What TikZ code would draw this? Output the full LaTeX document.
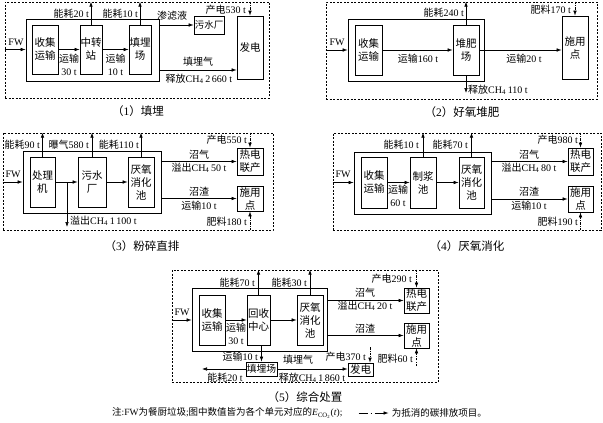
\documentclass[tikz,border=0pt]{standalone}
\usepackage{fontspec}
\setmainfont{Noto Sans CJK SC}
\newfontfamily\enf{Liberation Serif}
\newcommand\en[1]{{\enf #1}}
\newcommand\chq{\en{CH\textsubscript{4}}}
\usetikzlibrary{arrows.meta}
\tikzset{
  box/.style={draw, line width=0.75pt, inner sep=0pt, align=center, font=\fontsize{10.5}{13}\selectfont},
  obox/.style={draw, line width=0.6pt, dash pattern=on 2pt off 1.5pt, inner sep=0pt},
  arr/.style={line width=0.65pt, -{Latex[length=5pt,width=3.6pt]}},
  darr/.style={arr, dash pattern=on 2.5pt off 1.2pt on 0.8pt off 1.2pt},
  legarr/.style={arr, dash pattern=on 9pt off 3pt on 1.2pt off 3pt},
  lbl/.style={inner sep=0pt, align=center, font=\fontsize{10}{12.5}\selectfont},
  captxt/.style={inner sep=0pt, font=\fontsize{11.5}{13}\selectfont},
  notetxt/.style={inner sep=0pt, font=\fontsize{9.5}{11}\selectfont},
}
\newcommand\bx[7][box]{\node[#1,minimum width={(#5-#3)*1pt},minimum height={(#6-#4)*1pt}] (#2) at ({(#3+#5)/2},{(#4+#6)/2}) {#7};}
\begin{document}
\begin{tikzpicture}[x=1pt,y=-1pt]
\useasboundingbox (0,0) rectangle (603,423);
% ---------------- panel 1
\bx[obox]{o1}{5}{2}{269}{98}{}
\bx{in1}{26}{19}{159}{81}{}
\bx{a1}{32}{25}{58}{74}{收集\\运输}
\bx{b1}{80}{25}{102}{74}{中转\\站}
\bx{c1}{129}{25}{151}{74}{填埋\\场}
\bx[box,font=\fontsize{9.5}{12}\selectfont]{w1}{194}{16}{224}{34}{污水厂}
\bx{g1}{237}{16}{263}{79}{发电}
\draw[arr] (o1.west |- a1) -- (in1.west |- a1);
\node[lbl] (fw1) at (16,42) {\en{FW}};
\draw[arr] (a1) -- (b1);
\draw[arr] (b1) -- (c1);
\node[lbl] (t1a) at (69,65) {运输\\\en{30 t}};
\node[lbl] (t1b) at (115.5,65) {运输\\\en{10 t}};
\draw[arr] (b1.north) -- (b1.north |- o1.north);
\node[lbl,anchor=east] (t1c) at (89,14) {能耗\en{20 t}};
\draw[arr] (c1.north) -- (c1.north |- o1.north);
\node[lbl,anchor=east] (t1d) at (138,14) {能耗\en{10 t}};
\draw[arr] (in1.east |- w1) -- (w1.west);
\node[lbl] (t1e) at (172,16) {渗滤液};
\coordinate (p1) at (159,70);
\draw[arr] (p1) -- (p1 -| g1.west);
\node[lbl] (t1f) at (198,62) {填埋气};
\node[lbl] (t1g) at (199,79) {释放\chq\en{\,2\,660 t}};
\draw[darr] (g1.north |- o1.north) -- (g1.north);
\node[lbl,anchor=east] (t1h) at (246,10) {产电\en{530 t}};
\node[captxt] (cap1) at (138,111) {（\en{1}）填埋};
% ---------------- panel 2
\bx[obox]{o2}{326}{2}{597}{99}{}
\bx{in2}{348}{19}{484}{81}{}
\bx{a2}{355}{25}{382}{75}{收集\\运输}
\bx{b2}{453}{25}{479}{75}{堆肥\\场}
\bx{d2}{562}{16}{588}{79}{施用\\点}
\draw[arr] (o2.west |- a2) -- (in2.west |- a2);
\node[lbl] (fw2) at (337,42) {\en{FW}};
\draw[arr] (a2) -- (b2);
\node[lbl] (t2a) at (418,59) {运输\en{160 t}};
\draw[arr] (b2.north) -- (b2.north |- o2.north);
\node[lbl,anchor=east] (t2b) at (464,13) {能耗\en{240 t}};
\coordinate (q2) at (466,93);
\draw[arr] (b2.south) -- (b2.south |- q2);
\node[lbl,anchor=west] (t2c) at (468,90) {释放\chq\en{\,110 t}};
\draw[arr] (b2) -- (b2 -| d2.west);
\node[lbl] (t2d) at (524,59) {运输\en{20 t}};
\draw[darr] (d2.north |- o2.north) -- (d2.north);
\node[lbl,anchor=east] (t2e) at (571,10) {肥料\en{170 t}};
\node[captxt] (cap2) at (462,112) {（\en{2}）好氧堆肥};
% ---------------- panel 3
\bx[obox]{o3}{3}{133}{273}{230}{}
\bx{in3}{23}{151}{161}{213}{}
\bx{a3}{30}{157}{55}{207}{处理\\机}
\bx{b3}{78}{157}{106}{207}{污水\\厂}
\bx{c3}{128}{157}{154}{207}{厌氧\\消化\\池}
\bx{h3}{237}{148}{263}{175}{热电\\联产}
\bx{d3}{237}{186}{263}{211}{施用\\点}
\draw[arr] (o3.west |- a3) -- (in3.west |- a3);
\node[lbl] (fw3) at (13,174) {\en{FW}};
\draw[arr] (a3) -- (b3);
\draw[arr] (b3) -- (c3);
\coordinate (s3) at (67,182);
\coordinate (s3e) at (67,227);
\draw[arr] (s3) -- (s3e);
\node[lbl,anchor=west] (t3a) at (70,221) {溢出\chq\en{\,1\,100 t}};
\draw[arr] (a3.north) -- (a3.north |- o3.north);
\node[lbl,anchor=east] (t3b) at (40,145) {能耗\en{90 t}};
\draw[arr] (b3.north) -- (b3.north |- o3.north);
\node[lbl,anchor=east] (t3c) at (89,145) {曝气\en{580 t}};
\draw[arr] (c3.north) -- (c3.north |- o3.north);
\node[lbl,anchor=east] (t3d) at (139,145) {能耗\en{110 t}};
\draw[arr] (in3.east |- h3) -- (h3.west);
\node[lbl] (t3e) at (199,155) {沼气};
\node[lbl] (t3f) at (199,168) {溢出\chq\en{\,50 t}};
\draw[arr] (in3.east |- d3) -- (d3.west);
\node[lbl] (t3g) at (199,192) {沼渣};
\node[lbl] (t3h) at (199,206) {运输\en{10 t}};
\draw[darr] (h3.north |- o3.north) -- (h3.north);
\node[lbl,anchor=east] (t3i) at (247,140) {产电\en{550 t}};
\draw[darr] (d3.south |- o3.south) -- (d3.south);
\node[lbl,anchor=east] (t3j) at (247,222) {肥料\en{180 t}};
\node[captxt] (cap3) at (142,246) {（\en{3}）粉碎直排};
% ---------------- panel 4
\bx[obox]{o4}{333}{133}{601}{230}{}
\bx{in4}{354}{152}{491}{214}{}
\bx{a4}{361}{157}{387}{208}{收集\\运输}
\bx{b4}{410}{157}{436}{208}{制浆\\池}
\bx{c4}{459}{157}{484}{208}{厌氧\\消化\\池}
\bx{h4}{568}{148}{593}{175}{热电\\联产}
\bx{d4}{568}{186}{593}{212}{施用\\点}
\draw[arr] (o4.west |- a4) -- (in4.west |- a4);
\node[lbl] (fw4) at (343,174) {\en{FW}};
\draw[arr] (a4) -- (b4);
\draw[arr] (b4) -- (c4);
\node[lbl] (t4a) at (398,196) {运输\\\en{60 t}};
\draw[arr] (b4.north) -- (b4.north |- o4.north);
\node[lbl,anchor=east] (t4b) at (419,145) {能耗\en{10 t}};
\draw[arr] (c4.north) -- (c4.north |- o4.north);
\node[lbl,anchor=east] (t4c) at (468,145) {能耗\en{70 t}};
\draw[arr] (in4.east |- h4) -- (h4.west);
\node[lbl] (t4d) at (529,155) {沼气};
\node[lbl] (t4e) at (529,168) {溢出\chq\en{\,80 t}};
\draw[arr] (in4.east |- d4) -- (d4.west);
\node[lbl] (t4f) at (529,192) {沼渣};
\node[lbl] (t4g) at (529,206) {运输\en{10 t}};
\draw[darr] (h4.north |- o4.north) -- (h4.north);
\node[lbl,anchor=east] (t4h) at (578,140) {产电\en{980 t}};
\draw[darr] (d4.south |- o4.south) -- (d4.south);
\node[lbl,anchor=east] (t4i) at (578,222) {肥料\en{190 t}};
\node[captxt] (cap4) at (467,246) {（\en{4}）厌氧消化};
% ---------------- panel 5
\bx[obox]{o5}{172}{270}{438}{382}{}
\bx{in5}{192}{288}{327}{351}{}
\bx{a5}{199}{295}{225}{345}{收集\\运输}
\bx{b5}{247}{295}{270}{345}{回收\\中心}
\bx{c5}{297}{295}{323}{345}{厌氧\\消化\\池}
\bx{h5}{404}{288}{429}{313}{热电\\联产}
\bx{d5}{404}{323}{429}{348}{施用\\点}
\bx[box,font=\fontsize{9.8}{12}\selectfont]{l5}{246}{362}{277}{376}{填埋场}
\bx{g5}{348}{363}{373}{376}{发电}
\draw[arr] (o5.west |- a5) -- (in5.west |- a5);
\node[lbl] (fw5) at (182,312) {\en{FW}};
\draw[arr] (a5) -- (b5);
\draw[arr] (b5) -- (c5);
\node[lbl] (t5a) at (236,334) {运输\\\en{30 t}};
\draw[arr] (b5.north) -- (b5.north |- o5.north);
\node[lbl,anchor=east] (t5b) at (255,283) {能耗\en{70 t}};
\draw[arr] (c5.north) -- (c5.north |- o5.north);
\node[lbl,anchor=east] (t5c) at (307,283) {能耗\en{30 t}};
\draw[arr] (in5.east |- h5) -- (h5.west);
\node[lbl] (t5d) at (365,293) {沼气};
\node[lbl] (t5e) at (365,306) {溢出\chq\en{\,20 t}};
\draw[arr] (in5.east |- d5) -- (d5.west);
\node[lbl] (t5f) at (365,329) {沼渣};
\draw[darr] (h5.north |- o5.north) -- (h5.north);
\node[lbl,anchor=east] (t5g) at (412,279) {产电\en{290 t}};
\coordinate (f5) at (416.5,366);
\draw[darr] (d5.south |- f5) -- (d5.south);
\node[lbl,anchor=east] (t5h) at (413,359) {肥料\en{60 t}};
\draw[arr] (l5.north |- b5.south) -- (l5.north);
\node[lbl,anchor=east] (t5i) at (258,357) {运输\en{10 t}};
\coordinate (e5) at (202,369);
\draw[arr] (l5.west) -- (l5.west -| e5);
\node[lbl] (t5j) at (225,378) {能耗\en{20 t}};
\draw[arr] (l5.east) -- (l5.east -| g5.west);
\node[lbl] (t5k) at (298,360) {填埋气};
\node[lbl] (t5l) at (312,378) {释放\chq\en{\,1\,860 t}};
\coordinate (k5) at (370,347);
\draw[darr] (k5) -- (k5 |- g5.north);
\node[lbl,anchor=east] (t5m) at (366,357) {产电\en{370 t}};
\node[captxt] (cap5) at (305,397) {（\en{5}）综合处置};
% ---------------- note
\node[notetxt,anchor=west] (n1) at (112,413) {注\en{:FW}为餐厨垃圾\en{;}图中数值皆为各个单元对应的\en{\textit{E}\textsubscript{CO\textsubscript{2}}(\textit{t});}};
\coordinate (na) at ([xshift=16pt]n1.east);
\coordinate (nb) at ([xshift=46pt]n1.east);
\draw[legarr] (na) -- (nb);
\node[notetxt,anchor=west] (n2) at ([xshift=3pt]nb) {为抵消的碳排放项目。};
\end{tikzpicture}
\end{document}
